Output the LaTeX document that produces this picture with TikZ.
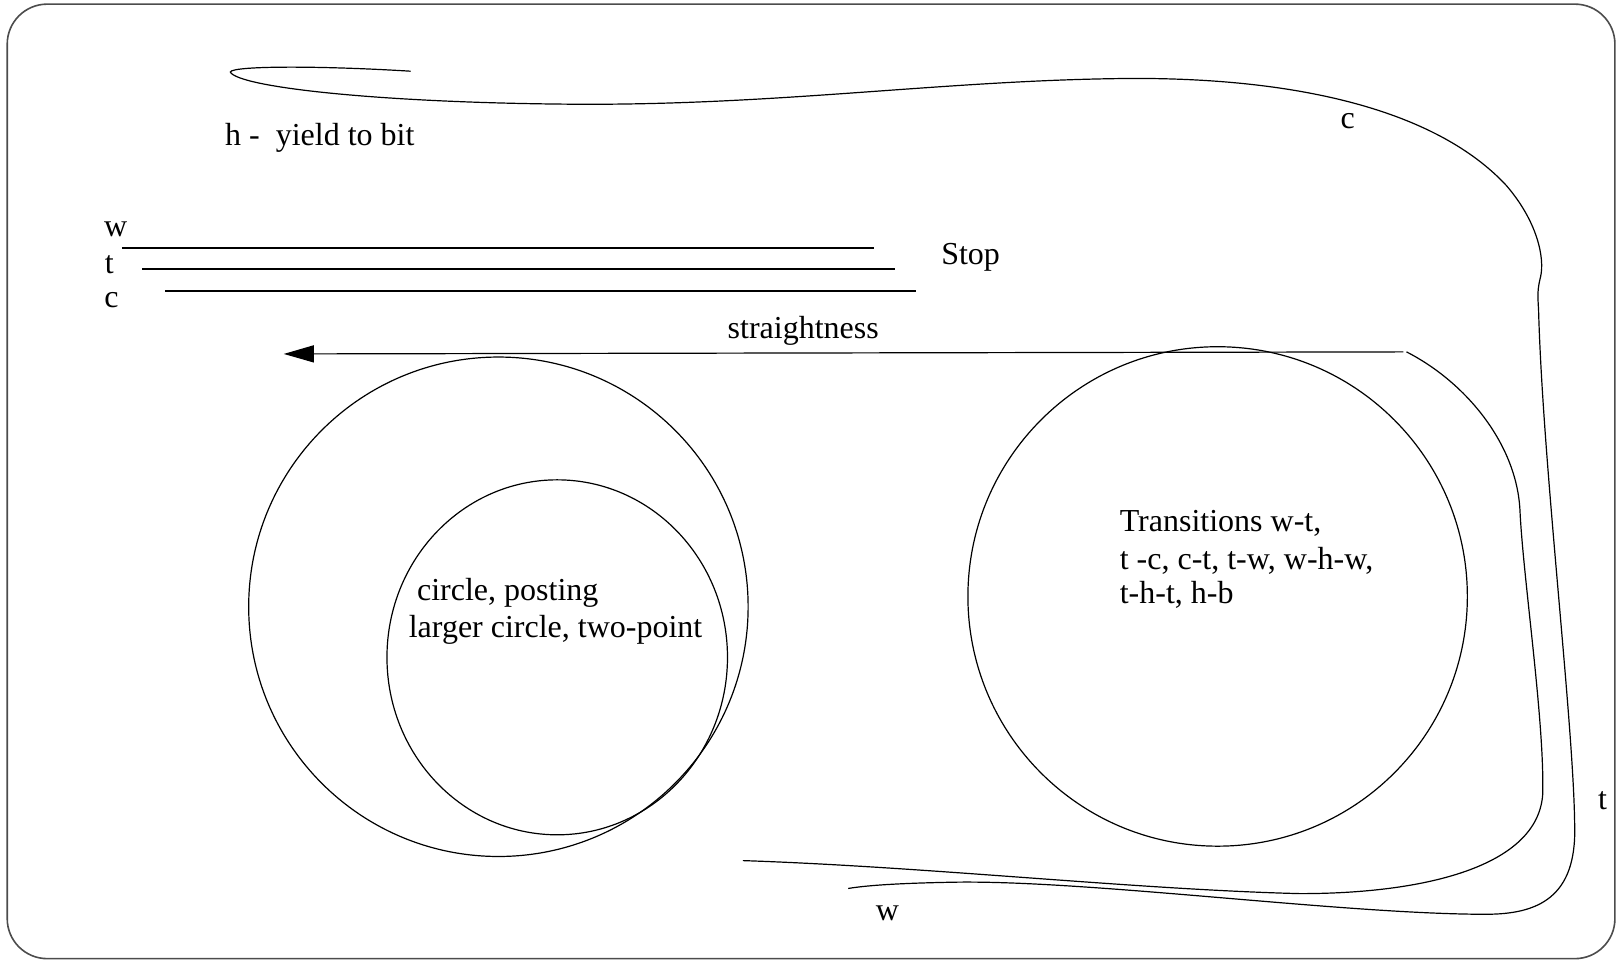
\documentclass[tikz,border=0pt]{standalone}
\usepackage{fontspec}
\setmainfont{Liberation Serif}
\usetikzlibrary{arrows.meta}
\begin{document}
\begin{tikzpicture}[x=1.0319pt,y=-1.0319pt,
  curve/.style={line width=1.2pt, black},
  thick line/.style={line width=2pt, black},
  lbl/.style={inner sep=0pt, font=\fontsize{32}{37}\selectfont},
  frame/.style={line width=1.6pt, black!70, rounded corners=40pt}]
\useasboundingbox (0,0) rectangle (1568,931);
\fill[white] (0,0) rectangle (1568,931);
\draw[frame] (7,4) rectangle (1565,929);

% outer curve
\draw[curve] (398,69) .. controls (300,63) and (214,64) .. (224,71)
  .. controls (240,86) and (380,100) .. (560,101)
  .. controls (760,102) and (920,77) .. (1100,76)
  .. controls (1280,76) and (1400,115) .. (1460,180)
  .. controls (1490,215) and (1497,250) .. (1493,268)
  .. controls (1490,280) and (1490,285) .. (1491,300)
  .. controls (1495,450) and (1525,700) .. (1526,800)
  .. controls (1528,870) and (1490,886) .. (1440,886)
  .. controls (1300,886) and (1050,852) .. (920,855)
  .. controls (870,856) and (840,858) .. (822,861);

% inner curve
\draw[curve] (1363,341) .. controls (1420,370) and (1470,430) .. (1473,495)
  .. controls (1476,560) and (1497,700) .. (1495,770)
  .. controls (1490,840) and (1380,866) .. (1260,866)
  .. controls (1100,862) and (900,840) .. (720,834);

% three lines
\draw[thick line] (118,240) -- (847,240);
\draw[thick line] (138,261) -- (867,261);
\draw[thick line] (160,282) -- (888,282);

% arrow
\coordinate (arrS) at (1360,341);
\coordinate (arrE) at (275,343);
\draw[curve, -{Triangle[length=30pt,width=17pt]}] (arrS) -- (arrE);

% circles
\draw[curve] (483,588) circle[radius=242];
\draw[curve] (540,637) ellipse[x radius=165, y radius=172];
\draw[curve] (1180,578) circle[radius=242];

% labels
\node[lbl, anchor=base west] (hy) at (218,141) {h -\ \ yield to bit};
\node[lbl, anchor=base] (lw) at (112,229) {w};
\node[lbl, anchor=base] (lt) at (106,265) {t};
\node[lbl, anchor=base] (lc) at (108,298) {c};
\node[lbl, anchor=base west] (stop) at (912,256) {Stop};
\node[lbl, anchor=base west] (str) at (705,328) {straightness};
\node[lbl, anchor=base] (cc) at (1306,125) {c};
\node[lbl, anchor=base] (tt) at (1553,784) {t};
\node[lbl, anchor=base] (ww) at (860,892) {w};
\node[lbl, anchor=base west] (cp) at (404,582) {circle, posting};
\node[lbl, anchor=base west] (lc2) at (396,618) {larger circle, two-point};
\node[lbl, anchor=base west] (tr1) at (1085,515) {Transitions w-t,};
\node[lbl, anchor=base west] (tr2) at (1085,552) {t -c, c-t, t-w, w-h-w,};
\node[lbl, anchor=base west] (tr3) at (1085,585) {t-h-t, h-b};
\end{tikzpicture}
\end{document}
